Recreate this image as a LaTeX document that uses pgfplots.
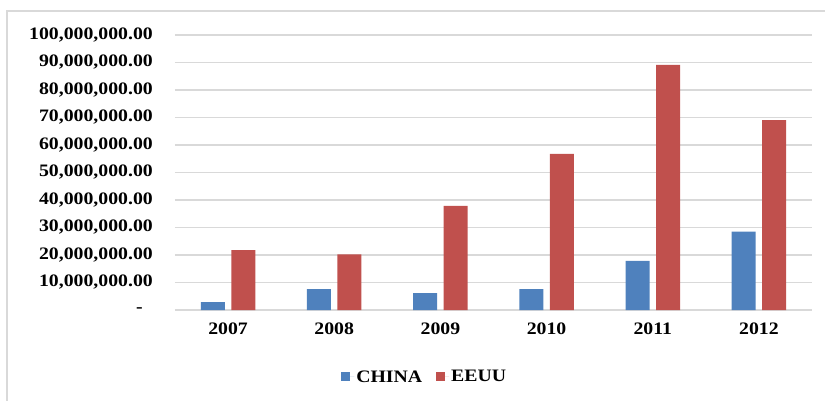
\documentclass[border=0pt]{standalone}
\usepackage{fontspec}
\setmainfont{Liberation Serif}[FakeStretch=1.13]
\usepackage{pgfplots}
\pgfplotsset{compat=1.18}

\definecolor{chinablue}{RGB}{79,129,189}
\definecolor{eeuured}{RGB}{192,80,77}
\definecolor{gridgray}{RGB}{217,217,217}

\begin{document}
\begin{tikzpicture}
\begin{axis}[
  at={(0bp,0bp)}, anchor=south west,
  scale only axis,
  width=637bp, height=275bp,
  ybar=6.5bp, bar width=24bp,
  xmin=-0.5, xmax=5.5,
  ymin=0, ymax=100000000,
  xtick={0,1,2,3,4,5},
  xticklabels={2007,2008,2009,2010,2011,2012},
  ytick={0,10000000,20000000,30000000,40000000,50000000,60000000,70000000,80000000,90000000,100000000},
  yticklabels={{\raisebox{-3bp}{-}\hspace*{10bp}},{10,000,000.00},{20,000,000.00},{30,000,000.00},{40,000,000.00},{50,000,000.00},{60,000,000.00},{70,000,000.00},{80,000,000.00},{90,000,000.00},{100,000,000.00}},
  scaled y ticks=false,
  major tick length=0pt,
  axis lines*=left,
  y axis line style={draw=none},
  x axis line style={gridgray, line width=1.2bp},
  ymajorgrids,
  grid style={gridgray, line width=1.2bp},
  tick label style={font=\bfseries\fontsize{17.5bp}{20bp}\selectfont, text=black},
  yticklabel style={anchor=east, inner sep=0pt, xshift=-22bp},
  xticklabel style={anchor=north, inner sep=0pt, yshift=-13bp},
  legend style={draw=none, at={(0.392,-0.2436)}, anchor=center,
    font=\bfseries\fontsize{17.5bp}{20bp}\selectfont,
    /tikz/every even column/.append style={column sep=12bp}},
  legend columns=-1,
  legend image code/.code={\fill[#1] (0bp,-4.5bp) rectangle (9bp,4.5bp);
    \path (0bp,0bp) -- (13bp,0bp);},
  clip=false,
]
\addplot[fill=chinablue, draw=none] coordinates {
  (0,2900000) (1,7600000) (2,6100000) (3,7600000) (4,17900000) (5,28500000)};
\addplot[fill=eeuured, draw=none] coordinates {
  (0,21800000) (1,20200000) (2,37900000) (3,56800000) (4,89100000) (5,69000000)};
\legend{CHINA, EEUU}
\end{axis}
\draw[gridgray, line width=1.5bp] (-168bp,-91bp) -- (-168bp,299bp) -- (650bp,299bp);
\pgfresetboundingbox
\path (-175bp,-91bp) rectangle (650bp,310bp);
\end{tikzpicture}
\end{document}
